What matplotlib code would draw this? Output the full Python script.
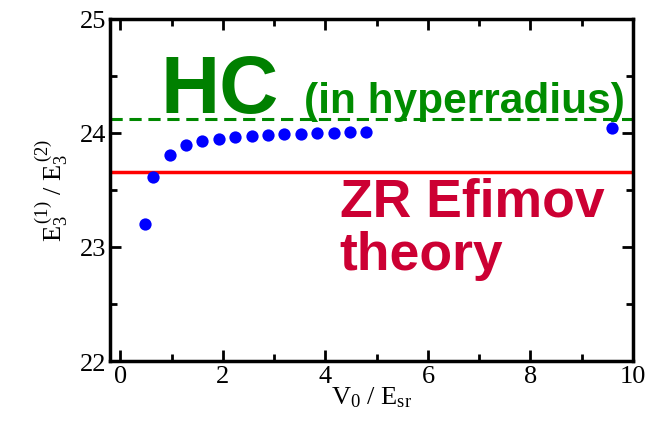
import matplotlib
matplotlib.use('Agg')
import matplotlib.pyplot as plt
from matplotlib.ticker import MultipleLocator


# ratio E3(1)/E3(2) vs V0/Esr
v0 = [0.48, 0.64, 0.96, 1.28, 1.60, 1.92, 2.24, 2.56, 2.88, 3.20,
      3.52, 3.84, 4.16, 4.48, 4.80, 9.60]
ratio = [23.20, 23.61, 23.81, 23.89, 23.93, 23.95, 23.96, 23.97, 23.98, 23.99,
         23.99, 24.00, 24.00, 24.01, 24.01, 24.04]

hc_level = 24.12
zr_level = 23.66

serif = ['Liberation Serif', 'DejaVu Serif']
sans = ['Liberation Sans', 'DejaVu Sans']

plt.rcParams['mathtext.fontset'] = 'custom'
plt.rcParams['mathtext.rm'] = 'Liberation Serif'
plt.rcParams['mathtext.it'] = 'Liberation Serif'

fig = plt.figure(figsize=(6.6, 4.31), dpi=100)
ax = fig.add_axes([0.167, 0.160, 0.792, 0.794])

ax.axhline(hc_level, color='#008800', linestyle=(0, (4, 2.2)), linewidth=2.2)
ax.axhline(zr_level, color='#ff0000', linestyle='-', linewidth=2.5)
ax.scatter(v0, ratio, s=78, color='#0000ff', zorder=3, linewidths=0)

ax.set_xlim(-0.2, 10)
ax.set_ylim(22, 25)
ax.xaxis.set_major_locator(MultipleLocator(2))
ax.xaxis.set_minor_locator(MultipleLocator(1))
ax.yaxis.set_major_locator(MultipleLocator(1))
ax.yaxis.set_minor_locator(MultipleLocator(0.5))
ax.tick_params(which='both', direction='in', top=True, right=True, width=2)
ax.tick_params(which='major', length=8, labelsize=19, pad=3)
ax.tick_params(which='minor', length=5)
for lab in ax.get_xticklabels() + ax.get_yticklabels():
    lab.set_fontfamily(serif)
for sp in ax.spines.values():
    sp.set_linewidth(2.5)

ax.set_xlabel(r'$\mathrm{V_0}$ / $\mathrm{E_{sr}}$', fontsize=19, family=serif, labelpad=-2)
ax.set_ylabel(r'$\mathrm{E_3^{\,(1)}}$ / $\mathrm{E_3^{\,(2)}}$', fontsize=19, family=serif, labelpad=6)

# annotations placed in data coordinates (baseline)
ax.text(0.78, 24.18, 'HC', fontsize=59, fontweight='bold',
        color='#008000', family=sans, va='baseline', ha='left')
ax.text(3.58, 24.18, '(in hyperradius)', fontsize=30.5,
        fontweight='bold', color='#008c00', family=sans, va='baseline', ha='left')
ax.text(4.28, 23.28, 'ZR Efimov', fontsize=38.5,
        fontweight='bold', color='#cc0033', family=sans, va='baseline', ha='left')
ax.text(4.28, 22.81, 'theory', fontsize=38.5,
        fontweight='bold', color='#cc0033', family=sans, va='baseline', ha='left')

plt.savefig('out.png', dpi=100)
